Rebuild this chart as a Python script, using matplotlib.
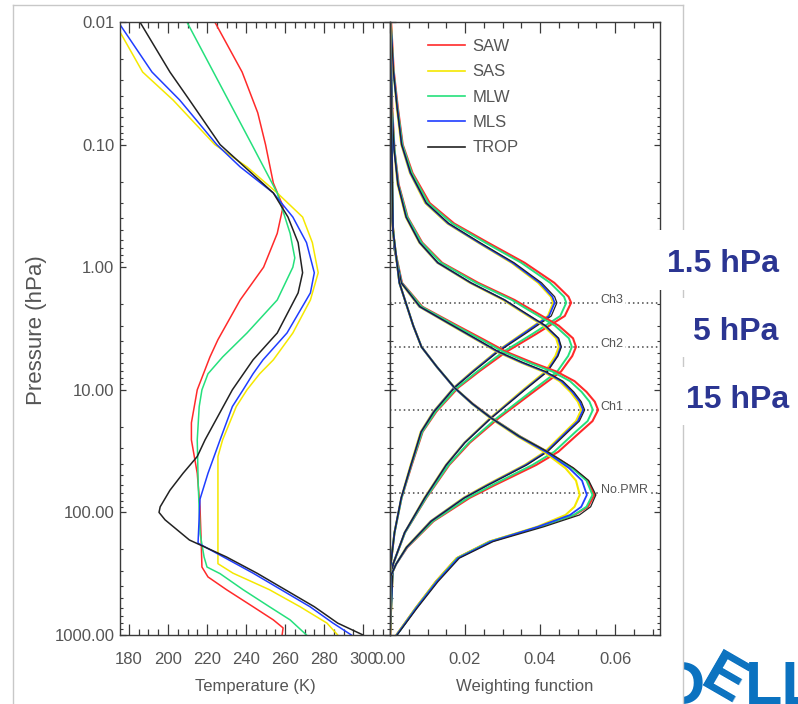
import matplotlib
matplotlib.use("Agg")
import matplotlib.pyplot as plt
from matplotlib.ticker import MultipleLocator, LogLocator, FormatStrFormatter, NullFormatter
from matplotlib.lines import Line2D
from matplotlib.patches import Rectangle

plt.rcParams['font.family'] = ['Liberation Sans', 'DejaVu Sans']

models = ["SAW", "SAS", "MLW", "MLS", "TROP"]
colors = ["#ff2a2a", "#f5e800", "#25e07c", "#1f3dff", "#222222"]

# temperature profiles, pressure in hPa and temperature in K
p_saw = [0.01, 0.0256, 0.055, 0.1, 0.206, 0.32, 0.53, 1.0, 1.85, 3.9, 5.4, 10, 18.6, 25.6, 48, 90, 168, 279, 336, 427, 588, 753, 875, 1000]
t_saw = [224, 238, 246, 250, 254, 259, 256, 249, 237, 225.6, 221.5, 215, 212, 212, 215, 216.4, 217, 217.4, 220.5, 230, 243.6, 254, 259, 258.5]

p_sas = [0.01, 0.0256, 0.0433, 0.1, 0.152, 0.248, 0.39, 0.63, 1.11, 1.85, 3.44, 5.7, 7.4, 10, 13.7, 25.6, 35, 100, 262, 313, 427, 588, 800, 1000]
t_sas = [172.5, 187, 202.6, 224, 240.5, 256, 269, 274, 277, 273, 264, 254, 247, 240.5, 235, 228, 225.6, 225.6, 225.6, 233.3, 252, 267.7, 281.5, 287]

p_mlw = [0.01, 0.1, 0.248, 0.53, 0.84, 1.0, 1.85, 3.44, 5.4, 7.4, 10, 13.7, 25.6, 60, 150, 231, 279, 316, 427, 588, 753, 1000]
t_mlw = [209.7, 243, 256, 262.6, 265, 264, 256, 240.5, 228, 220.5, 217.4, 216, 215, 215.5, 216.5, 218.5, 220, 226.7, 238.5, 252, 262.6, 271]

p_mls = [0.01, 0.0256, 0.0433, 0.1, 0.152, 0.248, 0.39, 0.63, 1.11, 1.62, 3.44, 5.7, 7.4, 10, 13.7, 25.6, 48, 78, 178, 313, 588, 800, 1000]
t_mls = [174.5, 191.8, 206, 225, 237, 254, 264, 271, 275, 273, 261, 248.7, 243.6, 238.5, 233, 226.7, 220.5, 216.4, 215.4, 243.6, 272.8, 284.6, 294]

p_trop = [0.01, 0.0256, 0.0433, 0.1, 0.248, 0.39, 0.63, 1.11, 1.62, 3.44, 5.7, 10, 25.6, 35, 48, 66, 90, 100, 115, 168, 231, 313, 588, 800, 1000]
t_trop = [185.6, 201, 211, 226.7, 254, 261.5, 266.7, 269, 266.7, 256, 243.6, 233, 219, 215, 207.7, 201, 196, 195.4, 198.5, 211, 230, 245.6, 275, 287, 300]

# weighting functions, one pressure grid per channel, values per model
p_ch3 = [0.01, 0.025, 0.05, 0.1, 0.17, 0.3, 0.44, 0.63, 0.92, 1.34, 1.74, 1.95, 2.5, 3.5, 4.9, 7.0, 9.6, 15, 22, 41, 76, 146, 280, 1000]
w_ch3_saw = [0.0003, 0.0010, 0.0021, 0.0034, 0.0060, 0.0106, 0.0171, 0.0261, 0.0359, 0.0438, 0.0476, 0.0483, 0.0466, 0.0390, 0.0310, 0.0240, 0.0182, 0.0124, 0.0087, 0.0058, 0.0031, 0.0012, 0.0001, 0.0]
w_ch3_sas = [0.0002, 0.0009, 0.0018, 0.0030, 0.0053, 0.0094, 0.0153, 0.0235, 0.0324, 0.0395, 0.0429, 0.0435, 0.0421, 0.0352, 0.0283, 0.0221, 0.0170, 0.0116, 0.0082, 0.0055, 0.0030, 0.0012, 0.0001, 0.0]
w_ch3_mlw = [0.0002, 0.0009, 0.0020, 0.0033, 0.0058, 0.0102, 0.0166, 0.0254, 0.0350, 0.0427, 0.0464, 0.0470, 0.0454, 0.0380, 0.0302, 0.0235, 0.0179, 0.0122, 0.0086, 0.0057, 0.0031, 0.0012, 0.0001, 0.0]
w_ch3_mls = [0.0002, 0.0009, 0.0019, 0.0031, 0.0054, 0.0096, 0.0155, 0.0237, 0.0327, 0.0399, 0.0433, 0.0439, 0.0424, 0.0355, 0.0285, 0.0223, 0.0171, 0.0117, 0.0083, 0.0056, 0.0030, 0.0012, 0.0001, 0.0]
w_ch3_trop = [0.0002, 0.0009, 0.0019, 0.0031, 0.0055, 0.0097, 0.0157, 0.0240, 0.0331, 0.0404, 0.0439, 0.0445, 0.0430, 0.0360, 0.0288, 0.0225, 0.0172, 0.0118, 0.0083, 0.0056, 0.0030, 0.0012, 0.0001, 0.0]

p_ch2 = [0.01, 0.05, 0.11, 0.21, 0.39, 0.63, 0.92, 1.34, 1.85, 2.25, 3.0, 3.8, 4.47, 5.3, 7.1, 10, 17, 27, 41, 76, 146, 265, 1000]
w_ch2_saw = [0.0001, 0.0006, 0.0012, 0.0023, 0.0047, 0.0086, 0.0139, 0.0235, 0.0332, 0.0380, 0.0450, 0.0488, 0.0496, 0.0486, 0.0456, 0.0390, 0.0290, 0.0213, 0.0158, 0.0097, 0.0040, 0.0008, 0.0]
w_ch2_sas = [0.0001, 0.0005, 0.0011, 0.0020, 0.0042, 0.0078, 0.0126, 0.0213, 0.0302, 0.0345, 0.0409, 0.0443, 0.0450, 0.0441, 0.0414, 0.0355, 0.0267, 0.0198, 0.0149, 0.0092, 0.0039, 0.0008, 0.0]
w_ch2_mlw = [0.0001, 0.0005, 0.0012, 0.0022, 0.0046, 0.0084, 0.0136, 0.0229, 0.0325, 0.0371, 0.0440, 0.0477, 0.0485, 0.0475, 0.0446, 0.0382, 0.0285, 0.0210, 0.0156, 0.0096, 0.0040, 0.0008, 0.0]
w_ch2_mls = [0.0001, 0.0005, 0.0011, 0.0021, 0.0043, 0.0079, 0.0127, 0.0215, 0.0305, 0.0348, 0.0413, 0.0448, 0.0455, 0.0446, 0.0418, 0.0358, 0.0269, 0.0199, 0.0150, 0.0093, 0.0039, 0.0008, 0.0]
w_ch2_trop = [0.0001, 0.0005, 0.0011, 0.0021, 0.0043, 0.0079, 0.0128, 0.0216, 0.0306, 0.0350, 0.0415, 0.0450, 0.0457, 0.0448, 0.0420, 0.0360, 0.0270, 0.0200, 0.0150, 0.0093, 0.0039, 0.0008, 0.0]

p_ch1 = [0.01, 0.1, 0.4, 0.72, 1.34, 2.1, 3.0, 4.0, 4.9, 6.0, 7.1, 8.5, 10.4, 12.5, 14.6, 18, 22, 32, 41, 60, 76, 118, 193, 265, 330, 1000]
w_ch1_saw = [0.0, 0.0002, 0.0006, 0.0013, 0.0032, 0.0086, 0.0180, 0.0257, 0.0310, 0.0380, 0.0444, 0.0492, 0.0524, 0.0546, 0.0555, 0.0540, 0.0508, 0.0449, 0.0390, 0.0279, 0.0213, 0.0116, 0.0046, 0.0016, 0.0002, 0.0]
w_ch1_sas = [0.0, 0.0002, 0.0006, 0.0012, 0.0029, 0.0078, 0.0165, 0.0236, 0.0285, 0.0349, 0.0408, 0.0452, 0.0481, 0.0501, 0.0510, 0.0496, 0.0467, 0.0413, 0.0359, 0.0256, 0.0196, 0.0108, 0.0043, 0.0016, 0.0002, 0.0]
w_ch1_mlw = [0.0, 0.0002, 0.0006, 0.0013, 0.0031, 0.0084, 0.0175, 0.0250, 0.0302, 0.0370, 0.0433, 0.0480, 0.0511, 0.0532, 0.0541, 0.0527, 0.0495, 0.0438, 0.0380, 0.0272, 0.0208, 0.0114, 0.0045, 0.0016, 0.0002, 0.0]
w_ch1_mls = [0.0, 0.0002, 0.0006, 0.0012, 0.0030, 0.0079, 0.0167, 0.0238, 0.0288, 0.0352, 0.0412, 0.0457, 0.0486, 0.0506, 0.0515, 0.0501, 0.0471, 0.0417, 0.0362, 0.0259, 0.0198, 0.0109, 0.0044, 0.0016, 0.0002, 0.0]
w_ch1_trop = [0.0, 0.0002, 0.0006, 0.0012, 0.0030, 0.0080, 0.0168, 0.0240, 0.0290, 0.0355, 0.0415, 0.0461, 0.0490, 0.0510, 0.0519, 0.0505, 0.0475, 0.0420, 0.0365, 0.0261, 0.0199, 0.0110, 0.0044, 0.0016, 0.0002, 0.0]

p_pmr = [0.01, 0.5, 1.34, 2.03, 3.0, 4.47, 6.5, 9.6, 13, 17, 24, 32, 43.6, 55, 72, 90, 105, 131, 173, 236, 367, 605, 1000]
w_pmr_saw = [0.0, 0.0008, 0.0025, 0.0044, 0.0062, 0.0084, 0.0125, 0.0172, 0.0221, 0.0272, 0.0347, 0.0420, 0.0488, 0.0527, 0.0545, 0.0528, 0.0492, 0.0398, 0.0265, 0.0178, 0.0122, 0.0068, 0.0017]
w_pmr_sas = [0.0, 0.0008, 0.0025, 0.0044, 0.0062, 0.0084, 0.0125, 0.0171, 0.0218, 0.0267, 0.0340, 0.0410, 0.0468, 0.0496, 0.0506, 0.0492, 0.0468, 0.0392, 0.0265, 0.0178, 0.0122, 0.0068, 0.0017]
w_pmr_mlw = [0.0, 0.0008, 0.0025, 0.0044, 0.0062, 0.0084, 0.0125, 0.0172, 0.0220, 0.0271, 0.0346, 0.0419, 0.0486, 0.0524, 0.0540, 0.0524, 0.0490, 0.0398, 0.0267, 0.0180, 0.0124, 0.0069, 0.0018]
w_pmr_mls = [0.0, 0.0008, 0.0025, 0.0044, 0.0062, 0.0084, 0.0125, 0.0171, 0.0219, 0.0269, 0.0343, 0.0415, 0.0478, 0.0512, 0.0525, 0.0510, 0.0480, 0.0395, 0.0270, 0.0182, 0.0125, 0.0070, 0.0018]
w_pmr_trop = [0.0, 0.0008, 0.0025, 0.0044, 0.0062, 0.0084, 0.0125, 0.0172, 0.0220, 0.0270, 0.0345, 0.0420, 0.0490, 0.0530, 0.0549, 0.0535, 0.0505, 0.0410, 0.0275, 0.0185, 0.0128, 0.0072, 0.0019]

chan_names = ["Ch3", "Ch2", "Ch1", "No.PMR"]
chan_levels = [1.96, 4.47, 14.6, 69.5]

temp_p = [p_saw, p_sas, p_mlw, p_mls, p_trop]
temp_t = [t_saw, t_sas, t_mlw, t_mls, t_trop]
wf_sets = [
    (p_ch3, [w_ch3_saw, w_ch3_sas, w_ch3_mlw, w_ch3_mls, w_ch3_trop]),
    (p_ch2, [w_ch2_saw, w_ch2_sas, w_ch2_mlw, w_ch2_mls, w_ch2_trop]),
    (p_ch1, [w_ch1_saw, w_ch1_sas, w_ch1_mlw, w_ch1_mls, w_ch1_trop]),
    (p_pmr, [w_pmr_saw, w_pmr_sas, w_pmr_mlw, w_pmr_mls, w_pmr_trop]),
]

W, H = 798, 704
fig = plt.figure(figsize=(W / 100, H / 100), dpi=100)


def fx(px):
    return px / W


def fy(py):
    return 1 - py / H


ax1 = fig.add_axes([fx(120), fy(635), fx(390) - fx(120), fy(22) - fy(635)])
ax2 = fig.add_axes([fx(390), fy(635), fx(660) - fx(390), fy(22) - fy(635)])

txt_col = "#555555"
axis_col = "#3a3a3a"

# left panel: temperature
for p, t, c in zip(temp_p, temp_t, colors):
    ax1.plot(t, p, color=c, lw=1.1)

# right panel: weighting functions, thin black core over coloured fringes
wf_lw = [1.5, 1.5, 1.4, 1.3, 0.9]
for p, ws in wf_sets:
    for w, c, lw in zip(ws, colors, wf_lw):
        ax2.plot(w, p, color=c, lw=lw)

for name, lev in zip(chan_names, chan_levels):
    ax2.axhline(lev, color="#444444", lw=1.1, ls=(0, (1, 2)), zorder=1.5)
    ax2.text(0.0562, lev, name, fontsize=9, color=txt_col, va="baseline", ha="left", zorder=3,
             bbox=dict(facecolor="white", edgecolor="none", pad=0.6))

for ax in (ax1, ax2):
    ax.set_yscale("log")
    ax.set_ylim(1000, 0.01)
    ax.yaxis.set_major_locator(LogLocator(base=10, numticks=10))
    ax.yaxis.set_minor_locator(LogLocator(base=10, subs=range(2, 10), numticks=20))
    ax.yaxis.set_minor_formatter(NullFormatter())
    for s in ax.spines.values():
        s.set_color(axis_col)
        s.set_linewidth(1.0)
    ax.tick_params(axis="x", which="major", direction="in", length=8, width=0.9,
                   top=True, bottom=True, pad=12, labelsize=12, color=axis_col, labelcolor=txt_col)
    ax.tick_params(axis="x", which="minor", direction="in", length=4, width=0.9,
                   top=True, bottom=True, color=axis_col)
    ax.tick_params(axis="y", which="major", direction="in", length=4, width=0.9,
                   left=True, right=True, pad=4, labelsize=12, color=axis_col, labelcolor=txt_col)
    ax.tick_params(axis="y", which="minor", direction="in", length=2.2, width=0.8,
                   left=True, right=True, color=axis_col)

ax1.set_xlim(175.4, 313.8)
ax1.xaxis.set_major_locator(MultipleLocator(20))
ax1.xaxis.set_minor_locator(MultipleLocator(5))
ax1.xaxis.set_major_formatter(FormatStrFormatter("%d"))
ax1.yaxis.set_major_formatter(FormatStrFormatter("%.2f"))

ax2.set_xlim(0, 0.072)
ax2.xaxis.set_major_locator(MultipleLocator(0.02))
ax2.xaxis.set_minor_locator(MultipleLocator(0.005))
ax2.xaxis.set_major_formatter(FormatStrFormatter("%.2f"))
ax2.tick_params(axis="y", labelleft=False)

handles = [Line2D([], [], color=c, lw=1.2) for c in colors]
ax2.legend(handles, models, loc="upper left", bbox_to_anchor=(0.141, 0.972), frameon=False,
           fontsize=12, handlelength=2.2, handletextpad=0.45, labelspacing=0.62, borderpad=0,
           borderaxespad=0, labelcolor=txt_col)

fig.text(fx(37), fy(330), "Pressure (hPa)", rotation=90, ha="center", va="center",
         fontsize=16, color=txt_col)
fig.text(fx(255), fy(686), "Temperature (K)", ha="center", va="center", fontsize=12, color=txt_col)
fig.text(fx(525), fy(686), "Weighting function", ha="center", va="center", fontsize=12, color=txt_col)

# logo (drawn first, partly masked)
dell_blue = "#0b72c0"
fig.text(fx(705), fy(704), "D", ha="right", va="baseline", fontsize=44, fontweight="bold",
         color=dell_blue, zorder=0.5)
fig.text(fx(723), fy(682), "E", ha="center", va="center", fontsize=44, fontweight="bold",
         color=dell_blue, rotation=-30, rotation_mode="anchor", zorder=0.5)
fig.text(fx(745), fy(704), "LL", ha="left", va="baseline", fontsize=44, fontweight="bold",
         color=dell_blue, zorder=0.5)
fig.add_artist(Rectangle((fx(640), fy(704)), fx(683) - fx(640), fy(648) - fy(704),
                         transform=fig.transFigure, facecolor="white", edgecolor="none", zorder=1))

# outer light frame
frame_col = "#c8c8c8"
fig.add_artist(Line2D([fx(13), fx(13)], [fy(5), 0], transform=fig.transFigure, color=frame_col, lw=1.0, zorder=2))
fig.add_artist(Line2D([fx(13), fx(683)], [fy(5), fy(5)], transform=fig.transFigure, color=frame_col, lw=1.0, zorder=2))
fig.add_artist(Line2D([fx(683), fx(683)], [fy(5), 0], transform=fig.transFigure, color=frame_col, lw=1.0, zorder=2))

# white boxes with level annotations
for (x0, y0, y1) in [(652, 230, 290), (672, 298, 357), (672, 367, 425)]:
    fig.add_artist(Rectangle((fx(x0), fy(y1)), fx(W) - fx(x0), fy(y0) - fy(y1),
                             transform=fig.transFigure, facecolor="white", edgecolor="none", zorder=3))

ann_col = "#2b3592"
for label, x, yb in [("1.5 hPa", 667, 272), ("5 hPa", 693, 340), ("15 hPa", 686, 408)]:
    fig.text(fx(x), fy(yb), label, ha="left", va="baseline", fontsize=23, fontweight="bold",
             color=ann_col, zorder=4)

fig.savefig("out.png", dpi=100, facecolor="white")
